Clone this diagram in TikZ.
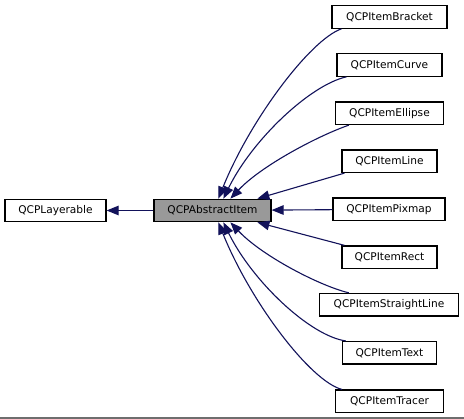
\documentclass[tikz,border=0pt]{standalone}
\usepackage{fontspec}
\setmainfont{DejaVu Sans}
\usetikzlibrary{arrows.meta}
\definecolor{edgeblue}{RGB}{18,18,90}
\definecolor{focusgray}{RGB}{153,153,153}
\begin{document}
\begin{tikzpicture}[x=1pt,y=-1pt,
  cls/.style={draw=black,line width=1.2pt,fill=white,inner sep=0pt,minimum height=22.5pt,font=\fontsize{10.6}{12}\selectfont},
  focus/.style={cls,fill=focusgray},
  inh/.style={draw=edgeblue,line width=1.1pt,-{Triangle[length=12pt,width=9.5pt]}}]
\useasboundingbox (0,0) rectangle (464,419);
\draw[line width=1.6pt,draw={rgb,255:red,110;green,110;blue,110}] (0,418.2) -- (464,418.2);
\node[cls,minimum width=101pt] (lay) at (55.5,210.5) {QCPLayerable};
\node[focus,minimum width=117pt] (abs) at (212.5,210.5) {QCPAbstractItem};
\node[cls,minimum width=115pt] (bra) at (389.5,17) {QCPItemBracket};
\node[cls,minimum width=105pt] (cur) at (389.5,65) {QCPItemCurve};
\node[cls,minimum width=108pt] (ell) at (389.5,113.3) {QCPItemEllipse};
\node[cls,minimum width=95pt] (lin) at (389.5,161.3) {QCPItemLine};
\node[cls,minimum width=112pt] (pix) at (389,209.3) {QCPItemPixmap};
\node[cls,minimum width=95pt] (rec) at (389.5,257.2) {QCPItemRect};
\node[cls,minimum width=139pt] (str) at (389,304.7) {QCPItemStraightLine};
\node[cls,minimum width=94pt] (txt) at (389.5,352.8) {QCPItemText};
\node[cls,minimum width=108pt] (tra) at (389.5,401.3) {QCPItemTracer};
\draw[inh] (abs) -- (lay);
\draw[inh] ([xshift=10pt]bra.south west) .. controls (310,40) and (250,120) .. ([xshift=65pt]abs.north west);
\draw[inh] ([xshift=10pt]cur.south west) .. controls (310,85) and (252,140) .. ([xshift=70pt]abs.north west);
\draw[inh] ([xshift=14pt]ell.south west) .. controls (320,135) and (262,165) .. ([xshift=77pt]abs.north west);
\draw[inh] ([xshift=3pt]lin.south west) -- ([xshift=104pt]abs.north west);
\draw[inh] (pix) -- (abs);
\draw[inh] ([xshift=3pt]rec.north west) -- ([xshift=104pt]abs.south west);
\draw[inh] ([xshift=30pt]str.north west) .. controls (320,286) and (262,256) .. ([xshift=77pt]abs.south west);
\draw[inh] ([xshift=4pt]txt.north west) .. controls (310,336) and (252,281) .. ([xshift=70pt]abs.south west);
\draw[inh] ([xshift=7pt]tra.north west) .. controls (310,381) and (250,301) .. ([xshift=65pt]abs.south west);
\end{tikzpicture}
\end{document}
